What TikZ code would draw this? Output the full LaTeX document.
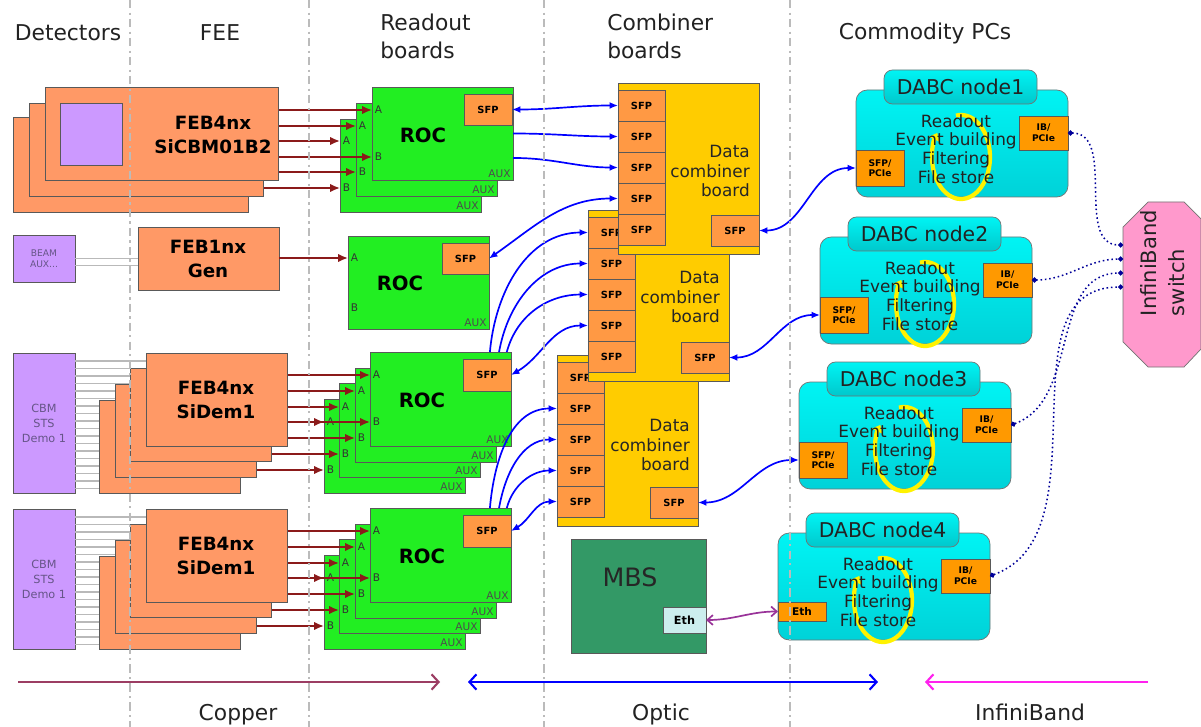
\documentclass[tikz,border=0pt]{standalone}
\usepackage{fontspec}
\setmainfont{DejaVu Sans}
\usepackage{tikz}
\usetikzlibrary{arrows.meta}
\usepackage{xcolor}
\definecolor{febc}{HTML}{FF9966}
\definecolor{detc}{HTML}{CC99FF}
\definecolor{detxt}{HTML}{665588}
\definecolor{rocc}{HTML}{22EE22}
\definecolor{sfpc}{HTML}{FF9944}
\definecolor{pcic}{HTML}{FF9900}
\definecolor{combc}{HTML}{FFCC00}
\definecolor{mbsc}{HTML}{339966}
\definecolor{ethc}{HTML}{CCEEEE}
\definecolor{pinkc}{HTML}{FF99CC}
\definecolor{cuc}{HTML}{8B1A1A}
\definecolor{optc}{HTML}{0000FF}
\definecolor{ibc}{HTML}{000099}
\definecolor{ethlc}{HTML}{993399}
\definecolor{legcu}{HTML}{9C3D63}
\definecolor{legib}{HTML}{FF22EE}
\definecolor{sepc}{HTML}{BBBBBB}
\definecolor{txtc}{HTML}{222222}
\definecolor{cyantop}{HTML}{00F4F4}
\definecolor{cyanbot}{HTML}{00D2D8}
\definecolor{tabbot}{HTML}{00C8CC}

\begin{document}
\begin{tikzpicture}[x=0.025cm,y=-0.025cm,
  sz/.style 2 args={minimum width=#1*0.025cm, minimum height=#2*0.025cm},
  basebox/.style={draw=black!65, line width=0.5pt, inner sep=0pt, outer sep=0pt, anchor=north west},
  febbox/.style={basebox, fill=febc},
  detbox/.style={basebox, fill=detc, text=detxt, align=center},
  rocbox/.style={basebox, fill=rocc},
  sfpbox/.style={basebox, fill=sfpc, font=\bfseries\fontsize{7}{8}\selectfont},
  pcibox/.style={basebox, fill=pcic, align=center, font=\bfseries\fontsize{6.5}{7.5}\selectfont},
  combbox/.style={basebox, fill=combc},
  combtxt/.style={anchor=east, align=right, inner sep=0pt, text=black!85, font=\fontsize{12}{13.9}\selectfont},
  dabcbox/.style={basebox, draw=black!55, rounded corners=8pt, top color=cyantop, bottom color=cyanbot},
  tabbox/.style={basebox, draw=black!55, rounded corners=6pt, top color=cyantop, bottom color=tabbot, text=txtc, font=\fontsize{14.5}{16}\selectfont},
  dtxt/.style={align=center, inner sep=0pt, text=txtc, font=\fontsize{12}{13.3}\selectfont},
  hdr/.style={inner sep=0pt, text=txtc, font=\fontsize{15.5}{20}\selectfont},
  febtxt/.style={align=center, inner sep=0pt, font=\bfseries\fontsize{13}{17}\selectfont},
  roctxt/.style={inner sep=0pt, font=\bfseries\fontsize{14}{16}\selectfont},
  portlbl/.style={anchor=west, inner xsep=2pt, inner ysep=0pt, outer sep=0pt, text=black!80, font=\fontsize{7.5}{8}\selectfont},
  auxlbl/.style={anchor=south east, inner sep=1.5pt, text=black!70, font=\fontsize{7.5}{8}\selectfont},
  wire/.style={draw=gray!55, line width=0.8pt},
  cu/.style={draw=cuc, line width=1.3pt, -{Latex[length=7pt,width=6pt]}},
  optl/.style={draw=optc, line width=1.2pt, -{Latex[length=6pt,width=5pt]}},
  optd/.style={draw=optc, line width=1.2pt, {Latex[length=6pt,width=5pt]}-{Latex[length=6pt,width=5pt]}},
  ibl/.style={draw=ibc, line width=1.1pt, dotted, {Circle[length=3.5pt]}-{Circle[length=3.5pt]}},
  ethl/.style={draw=ethlc, line width=1.2pt, {Straight Barb[length=4pt,width=7pt]}-{Straight Barb[length=4pt,width=7pt]}},
  loopc/.style={draw=yellow, line width=3pt, -{Triangle[length=5pt,width=8pt]}},
  sepline/.style={draw=sepc, line width=1.2pt, dash pattern=on 6pt off 3pt on 1.5pt off 3pt},
  legarrow/.style={line width=1.5pt}]

  \useasboundingbox (0,0) rectangle (1201,727);
  \fill[white] (0,0) rectangle (1201,727);

  % combiner boards, back one first
  \foreach \c/\x/\y/\tx/\ty in {3/557/355/690/445, 2/588/210/720/297, 1/618/83/750/171} {
    \node[combbox, sz={141}{171}] (cb\c) at (\x,\y) {};
    \foreach \k in {1,...,5}
      \node[sfpbox, sz={47}{31}] (p\c\k) at (\x,{\y+7+31*(\k-1)}) {SFP};
    \node[sfpbox, sz={48}{31}] (o\c) at ({\x+93},{\y+132}) {SFP};
    \node[combtxt] (cbt\c) at (\tx,\ty) {Data\\combiner\\board};
  }

  % readout boards
  \foreach \n/\x/\y/\ya/\yb in {3/340/119/141/188, 2/356/103/126/172, 1/372/87/110/157} {
    \node[rocbox, sz={141}{93}] (ra\n) at (\x,\y) {};
    \node[portlbl] (raA\n) at (\x,\ya) {A};
    \node[portlbl] (raB\n) at (\x,\yb) {B};
    \node[auxlbl] (raX\n) at (ra\n.south east) {AUX};
  }
  \node[sfpbox, sz={48}{31}] (sa) at (464,94) {SFP};
  \node[roctxt] (rat) at (423,135) {ROC};

  \node[rocbox, sz={141}{93}] (rb) at (348,236) {};
  \node[portlbl] (rbA) at (348,258) {A};
  \node[portlbl] (rbB) at (348,308) {B};
  \node[auxlbl] (rbX) at (rb.south east) {AUX};
  \node[sfpbox, sz={47}{31}] (sb) at (442,243) {SFP};
  \node[roctxt] (rbt) at (400,283) {ROC};

  \foreach \g/\oy in {c/0, d/156} {
    \foreach \n/\x/\y/\ya/\yb in {4/324/399/422/470, 3/339/383/407/454, 2/355/368/391/438, 1/370/352/375/422} {
      \node[rocbox, sz={141}{94}] (r\g\n) at (\x,{\y+\oy}) {};
      \node[portlbl] (r\g A\n) at (\x,{\ya+\oy}) {A};
      \node[portlbl] (r\g B\n) at (\x,{\yb+\oy}) {B};
      \node[auxlbl] (r\g X\n) at (r\g\n.south east) {AUX};
    }
    \node[sfpbox, sz={48}{32}] (s\g) at (463,{359+\oy}) {SFP};
    \node[roctxt] (rt\g) at (422,{400+\oy}) {ROC};
  }

  % copper links FEE -> ROC
  \coordinate (fax) at (161,133);
  \foreach \n in {1,2,3} {
    \draw[cu] (fax |- raA\n) -- (raA\n.west);
    \draw[cu] (fax |- raB\n) -- (raB\n.west);
  }
  \foreach \g/\oy in {c/0, d/156} {
    \coordinate (f\g x) at (216,{400+\oy});
    \foreach \n in {1,...,4} {
      \draw[cu] (f\g x |- r\g A\n) -- (r\g A\n.west);
      \draw[cu] (f\g x |- r\g B\n) -- (r\g B\n.west);
    }
  }

  % front-end boards and detectors
  \node[febbox, sz={235}{95}] (fa3) at (13,117) {};
  \node[febbox, sz={234}{93}] (fa2) at (29,103) {};
  \node[febbox, sz={233}{93}] (fa1) at (45,87) {};
  \node[detbox, sz={62}{62}] (sqa) at (60,103) {};
  \node[febtxt] (fat) at (213,135) {FEB4nx\\SiCBM01B2};

  \node[detbox, sz={62}{47}, font=\fontsize{6.5}{8}\selectfont] (beam) at (13,235) {BEAM\\AUX...};
  \node[febbox, sz={141}{63}] (feb1) at (138,227) {};
  \node[febtxt] (fbt) at (208,259) {FEB1nx\\Gen};
  \draw[wire] (beam.east) -- (feb1.west);
  \draw[wire] ([yshift=-5pt]beam.east) -- ([yshift=-5pt]feb1.west);
  \draw[cu] (feb1.east |- rbA) -- (rbA.west);

  \foreach \g/\oy in {c/0, d/156} {
    \node[detbox, sz={62}{140}, font=\fontsize{8}{10.7}\selectfont] (cbm\g) at (13,{353+\oy}) {CBM\\STS\\Demo 1};
    \foreach \k in {0,...,17}
      \draw[wire] (cbm\g.east |- 0,{361+\oy+7.5*\k}) -- (f\g x |- 0,{361+\oy+7.5*\k});
    \foreach \n/\x/\y in {4/99/400, 3/115/384, 2/130/368, 1/146/353}
      \node[febbox, sz={141}{93}] (f\g\n) at (\x,{\y+\oy}) {};
    \node[febtxt] (ft\g) at (216,{400+\oy}) {FEB4nx\\SiDem1};
  }

  % optic links ROC -> combiner
  \draw[optd] (sa.east) to[out=0,in=180] (p11.west);
  \draw[optl] (ra1.east) to[out=0,in=180] (p12.west);
  \draw[optl] ([yshift=-17.4pt]ra1.east) to[out=0,in=180] (p13.west);
  \draw[optd] (sb.east) to[out=35,in=180] (p14.west);
  \draw[optl] ([xshift=-15pt]rc1.north east) to[out=85,in=180] (p21.west);
  \draw[optl] ([xshift=-8.5pt]rc1.north east) to[out=80,in=180] (p22.west);
  \draw[optl] ([xshift=-3pt]rc1.north east) to[out=75,in=180] (p23.west);
  \draw[optd] (sc.east) to[out=30,in=180] (p24.west);
  \draw[optl] ([xshift=-15pt]rd1.north east) to[out=85,in=180] (p32.west);
  \draw[optl] ([xshift=-8.5pt]rd1.north east) to[out=80,in=180] (p33.west);
  \draw[optl] ([xshift=-3pt]rd1.north east) to[out=75,in=180] (p34.west);
  \draw[optd] (sd.east) to[out=30,in=180] (p35.west);

  % MBS
  \node[basebox, fill=mbsc, sz={135}{114}] (mbs) at (571,539) {};
  \node[inner sep=0pt, text=black!85, font=\fontsize{18}{20}\selectfont] (mbst) at (630,577) {MBS};
  \node[basebox, fill=ethc, sz={43}{26}, font=\bfseries\fontsize{8}{9}\selectfont] (eth1) at (663,607) {Eth};

  % DABC nodes
  \foreach \n/\L/\T in {1/856/90, 2/820/237, 3/799/382, 4/778/533} {
    \node[dabcbox, sz={212}{107}] (n\n) at (\L,\T) {};
    \draw[loopc] ({\L+105+29*cos(-100)},{\T+67+42*sin(-100)}) arc[start angle=-100, end angle=215, x radius=29, y radius=42];
    \node[dtxt] (nt\n) at ({\L+100},{\T+59}) {Readout\\Event building\\Filtering\\File store};
    \node[tabbox, sz={153}{34}] (nh\n) at ({\L+28},{\T-20}) {DABC node\n};
    \node[pcibox, sz={49}{34}] (ni\n) at ({\L+163},{\T+26}) {IB/\\PCIe};
    \ifnum\n<4
      \node[pcibox, sz={48}{36}] (ns\n) at (\L,{\T+60}) {SFP/\\PCIe};
    \else
      \node[pcibox, sz={48}{19}, font=\bfseries\fontsize{7.5}{8}\selectfont] (ns\n) at (\L,{\T+69}) {Eth};
    \fi
  }

  % InfiniBand switch
  \draw[draw=black!55, fill=pinkc, line width=0.5pt] (1148,202) -- (1184,202) -- (1201,219) -- (1201,349)
    -- (1184,367) -- (1148,367) -- (1123,342) -- (1123,227) -- cycle;
  \node[rotate=90, align=left, inner sep=0pt, text=txtc, font=\fontsize{15}{20}\selectfont] (swt) at (1163,263) {InfiniBand\\switch};
  \coordinate (sw1) at (1123,245);
  \coordinate (sw2) at (1123,259);
  \coordinate (sw3) at (1123,273);
  \coordinate (sw4) at (1123,287);

  \draw[optd] (o1.east) to[out=0,in=180] (ns1.west);
  \draw[optd] (o2.east) to[out=0,in=180] (ns2.west);
  \draw[optd] (o3.east) to[out=0,in=180] (ns3.west);
  \draw[ethl] (eth1.east) to[out=0,in=180] (ns4.west);
  \draw[ibl] (ni1.east) to[out=0,in=180] (sw1);
  \draw[ibl] (ni2.east) to[out=0,in=180] (sw2);
  \draw[ibl] (ni3.east) to[out=20,in=180] (sw3);
  \draw[ibl] (ni4.east) to[out=20,in=180] (sw4);

  % headers
  \node[hdr] (hdet) at (68,33) {Detectors};
  \node[hdr] (hfee) at (220,33) {FEE};
  \node[hdr, anchor=west, align=left] (hroc) at (380,36) {Readout\\boards};
  \node[hdr, anchor=west, align=left] (hcb) at (607,36) {Combiner\\boards};
  \node[hdr] (hpc) at (925,33) {Commodity PCs};

  % link kinds
  \coordinate (cuA) at (18,682);
  \coordinate (cuB) at (440,682);
  \coordinate (opA) at (468,682);
  \coordinate (opB) at (878,682);
  \coordinate (ibA) at (1148,682);
  \coordinate (ibB) at (925,682);
  \draw[legarrow, draw=legcu, -{Straight Barb[length=5pt,width=11pt]}] (cuA) -- (cuB);
  \draw[legarrow, draw=optc, {Straight Barb[length=5pt,width=11pt]}-{Straight Barb[length=5pt,width=11pt]}] (opA) -- (opB);
  \draw[legarrow, draw=legib, -{Straight Barb[length=5pt,width=11pt]}] (ibA) -- (ibB);
  \node[hdr, anchor=base] (lcu) at (238,720) {Copper};
  \node[hdr, anchor=base] (lop) at (661,720) {Optic};
  \node[hdr, anchor=base] (lib) at (1030,720) {InfiniBand};

  % column separators
  \foreach \x in {130,309,544,790}
    \draw[sepline] (\x,0) -- (\x,727);
\end{tikzpicture}
\end{document}
